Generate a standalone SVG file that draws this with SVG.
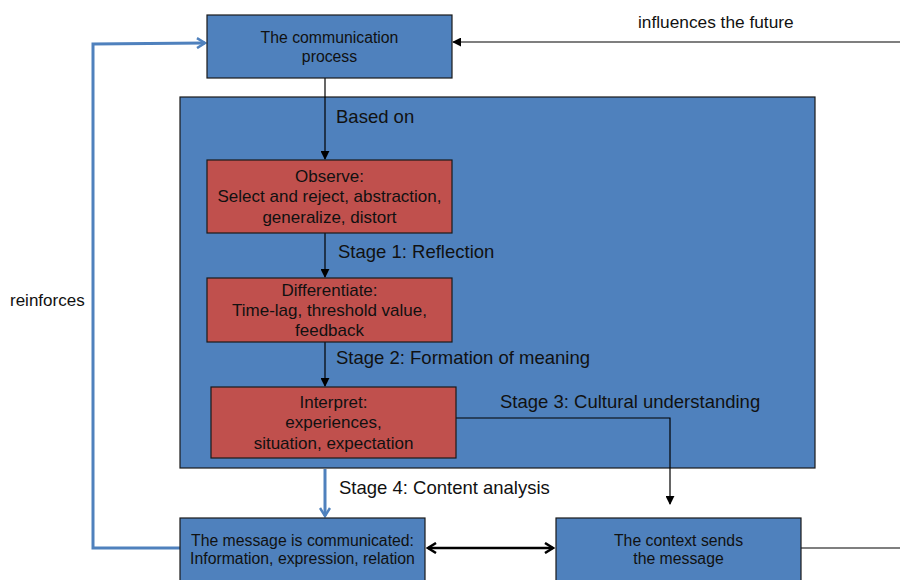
<svg xmlns="http://www.w3.org/2000/svg" width="900" height="580" viewBox="0 0 900 580">
<style>
text{font-family:"Liberation Sans",Arial,sans-serif;fill:#111;}
.blue{fill:#4F81BD;stroke:#1a1a1a;stroke-width:1.2;}
.red{fill:#C0504D;stroke:#1a1a1a;stroke-width:1.2;}
.n{font-size:15.8px;text-anchor:middle;}
.r{font-size:17px;text-anchor:middle;}
.lbl{font-size:18.5px;}
.ln{fill:none;stroke:#000;stroke-width:1.2;}
.bl{fill:none;stroke:#4F81BD;stroke-width:3;}
</style>
<defs>
<marker id="ah" viewBox="0 0 10 10" refX="9" refY="5" markerWidth="9" markerHeight="9" markerUnits="userSpaceOnUse" orient="auto"><path d="M0,0 L10,5 L0,10 Z" fill="#000"/></marker>
<marker id="ahb" viewBox="0 0 12 12" refX="10" refY="6" markerWidth="12" markerHeight="12" markerUnits="userSpaceOnUse" orient="auto"><path d="M2,1 L10,6 L2,11" fill="none" stroke="#4F81BD" stroke-width="2.5"/></marker>
<marker id="ahk" viewBox="0 0 12 12" refX="10" refY="6" markerWidth="12" markerHeight="12" markerUnits="userSpaceOnUse" orient="auto-start-reverse"><path d="M2,1 L10,6 L2,11" fill="none" stroke="#000" stroke-width="2.5"/></marker>
</defs>
<rect width="900" height="580" fill="#fff"/>
<g id="container"><rect class="blue" x="180" y="97" width="635" height="371"/></g>
<g id="connectors">
<path class="ln" d="M900,42 L453,42" marker-end="url(#ah)"/>
<path class="ln" d="M325,78 L325,159" marker-end="url(#ah)"/>
<path class="ln" d="M325,233 L325,277" marker-end="url(#ah)"/>
<path class="ln" d="M325,342 L325,386" marker-end="url(#ah)"/>
<path class="ln" d="M456,418 L670,418 L670,504" marker-end="url(#ah)"/>
<path class="bl" d="M325,469 L325,516" marker-end="url(#ahb)"/>
<path class="bl" d="M180,548 L93,548 L93,44 L205,43" marker-end="url(#ahb)"/>
<path d="M428,548 L553,548" fill="none" stroke="#000" stroke-width="2.5" marker-start="url(#ahk)" marker-end="url(#ahk)"/>
<path class="ln" d="M801,548 L900,548"/>
</g>
<g id="n-comm"><rect class="blue" x="207" y="15" width="245" height="63"/><text class="n" x="329.5" y="43">The communication</text><text class="n" x="329.5" y="62">process</text></g>
<g id="n-observe"><rect class="red" x="207" y="160" width="245" height="73"/><text class="r" x="329.5" y="182">Observe:</text><text class="r" x="329.5" y="202">Select and reject, abstraction,</text><text class="r" x="329.5" y="223">generalize, distort</text></g>
<g id="n-diff"><rect class="red" x="207" y="278" width="245" height="64"/><text class="r" x="329.5" y="296">Differentiate:</text><text class="r" x="329.5" y="316">Time-lag, threshold value,</text><text class="r" x="329.5" y="336">feedback</text></g>
<g id="n-interp"><rect class="red" x="211" y="387" width="245" height="71"/><text class="r" x="333.5" y="408">Interpret:</text><text class="r" x="333.5" y="428">experiences,</text><text class="r" x="333.5" y="449">situation, expectation</text></g>
<g id="n-message"><rect class="blue" x="180" y="518" width="245" height="70"/><text class="n" x="302.5" y="546">The message is communicated:</text><text class="n" x="302.5" y="564">Information, expression, relation</text></g>
<g id="n-context"><rect class="blue" x="556" y="518" width="245" height="70"/><text class="n" x="678.5" y="546">The context sends</text><text class="n" x="678.5" y="564">the message</text></g>
<g id="labels">
<text class="lbl" x="638" y="28" style="font-size:17.3px">influences the future</text>
<text class="lbl" x="336" y="123">Based on</text>
<text class="lbl" x="338" y="258">Stage 1: Reflection</text>
<text class="lbl" x="336" y="364">Stage 2: Formation of meaning</text>
<text class="lbl" x="500" y="408">Stage 3: Cultural understanding</text>
<text class="lbl" x="339" y="494">Stage 4: Content analysis</text>
<text class="lbl" x="10" y="306" style="font-size:17px">reinforces</text>
</g>
</svg>
